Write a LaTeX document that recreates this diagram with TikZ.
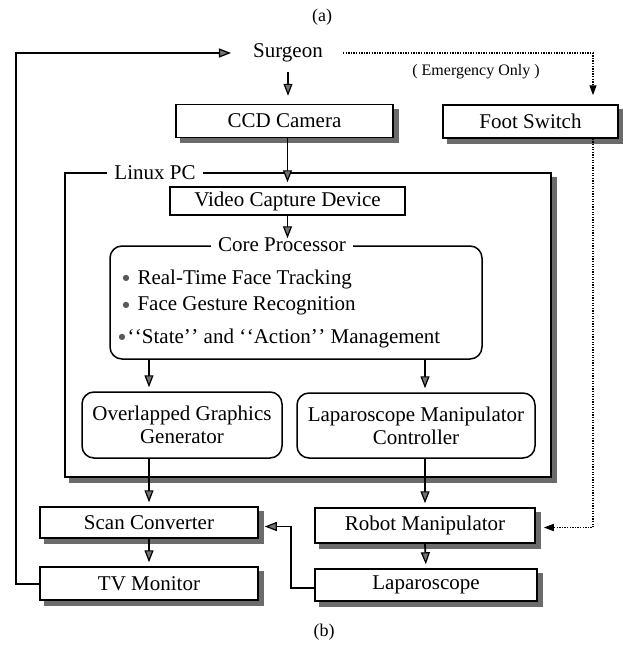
\documentclass[tikz,border=0pt]{standalone}
\usepackage{fontspec}
\setmainfont{Liberation Serif}
\newfontfamily\symfont{DejaVu Sans}
\usetikzlibrary{arrows.meta,calc}
\pgfdeclarelayer{background}
\pgfsetlayers{background,main}
\newcommand{\bul}{\raisebox{0.35ex}{\symfont\fontsize{8}{8}\selectfont\color{black!65}●}\hspace{8pt}}
\newcommand{\oq}{\textquoteleft\kern0.5pt\textquoteleft}
\newcommand{\cq}{\textquoteright\kern0.5pt\textquoteright}
% shadow under a box: node name, corner radius
\newcommand{\boxshadow}[2]{\fill[shadowfill,rounded corners=#2] ($(#1.south west)+(5,5)$) rectangle ($(#1.north east)+(5,5)$);}
\begin{document}
\begin{tikzpicture}[x=1pt,y=-1pt,
  font=\fontsize{21}{23}\selectfont,
  shadowfill/.style={fill=black!58},
  blk/.style={draw,line width=1.5pt,fill=white,inner sep=0pt},
  sqbox/.style={blk},
  rbox/.style={blk,rounded corners=12pt,align=center},
  lbl/.style={fill=white,inner xsep=7pt,inner ysep=1pt},
  conn/.style={line width=1.8pt,-{Triangle[length=12pt,width=9pt,fill=black!55,line width=1.2pt]},shorten >=4pt},
  dotc/.style={line width=1.4pt,dash pattern=on 1.3pt off 1.3pt,-{Triangle[length=10pt,width=7pt]}},
  captxt/.style={font=\fontsize{18}{20}\selectfont},
]
\useasboundingbox (0,0) rectangle (623,645);

% captions
\node[captxt] (capa) at (322,17) {(a)};
\node[captxt] (capb) at (324,632) {(b)};

% top row
\node[inner xsep=20pt] (surgeon) at (288,53) {Surgeon};
\node[font=\fontsize{16}{18}\selectfont] (emerg) at (476,72) {( Emergency Only )};
\node[sqbox,minimum width=217pt,minimum height=33pt] (ccd) at (284.5,121) {CCD Camera};
\node[sqbox,minimum width=175pt,minimum height=33pt] (foot) at (530.5,121.5) {Foot Switch};

% Linux PC frame and its contents
\node[sqbox,minimum width=486pt,minimum height=304pt] (pc) at (308,325) {};
\node[lbl] (pclbl) at (155,173) {Linux PC};
\node[sqbox,minimum width=235pt,minimum height=28pt] (vcd) at (287.5,201) {Video Capture Device};
\node[rbox,minimum width=372pt,minimum height=113pt] (core) at (296,302.5) {};
\node[lbl] (corelbl) at (282,245) {Core Processor};
\node[anchor=west] (b1) at (119,279) {\bul Real-Time Face Tracking};
\node[anchor=west] (b2) at (119,306) {\bul Face Gesture Recognition};
\node[anchor=west] (b3) at (115,338) {\bul\hspace{-6pt}\oq State\cq\ and \oq Action\cq\ Management};
\node[rbox,minimum width=200pt,minimum height=66pt] (ogg) at (182,425) {Overlapped Graphics\\Generator};
\node[rbox,minimum width=238pt,minimum height=65pt] (lmc) at (416,425.5) {Laparoscope Manipulator\\Controller};

% bottom rows
\node[sqbox,minimum width=218pt,minimum height=31pt] (scan) at (149,522.5) {Scan Converter};
\node[sqbox,minimum width=218pt,minimum height=33pt] (tv) at (149,583.5) {TV Monitor};
\node[sqbox,minimum width=220pt,minimum height=35pt] (robot) at (425,525.5) {Robot Manipulator};
\node[sqbox,minimum width=222pt,minimum height=32pt] (lap) at (426,585) {Laparoscope};

% grey shadows behind the boxes
\begin{pgfonlayer}{background}
  \foreach \n in {ccd,foot,pc,vcd,scan,tv,robot,lap} {\boxshadow{\n}{0pt}}
  \foreach \n in {core,ogg,lmc} {\boxshadow{\n}{12pt}}
\end{pgfonlayer}

% routing columns
\coordinate (lx) at (16,0);
\coordinate (dx) at (593,0);

% feedback from the monitor to the surgeon
\draw[conn,line width=2pt,shorten >=2pt] (tv.west) -- (tv.west -| lx) -- (lx |- surgeon) -- (surgeon.west);

% main signal chain
\draw[conn,shorten <=6pt,shorten >=8pt] (surgeon.south) -- (surgeon.south |- ccd.north);
\draw[conn] (vcd.north |- ccd.south) -- (vcd.north);
\draw[conn,shorten >=7pt] (vcd.south) -- (vcd.south |- core.north);
\draw[conn] (scan.north |- core.south) -- (scan.north |- ogg.north);
\draw[conn] (robot.north |- core.south) -- (robot.north |- lmc.north);
\draw[conn] (scan.north |- ogg.south) -- (scan.north);
\draw[conn] (robot.north |- lmc.south) -- (robot.north);
\draw[conn] (scan.south) -- (tv.north);
\draw[conn] (robot.south) -- (lap.north);
\draw[conn,shorten >=0pt] ([yshift=-3pt]lap.west) -- ++(-23,0) |- ([xshift=6pt,yshift=-4pt]scan.east);

% emergency path through the foot switch
\draw[dotc,shorten >=9pt] (surgeon.east) -| (dx |- foot.north);
\draw[dotc] (dx |- foot.south) |- ([xshift=8pt,yshift=-2pt]robot.east);
\end{tikzpicture}
\end{document}
